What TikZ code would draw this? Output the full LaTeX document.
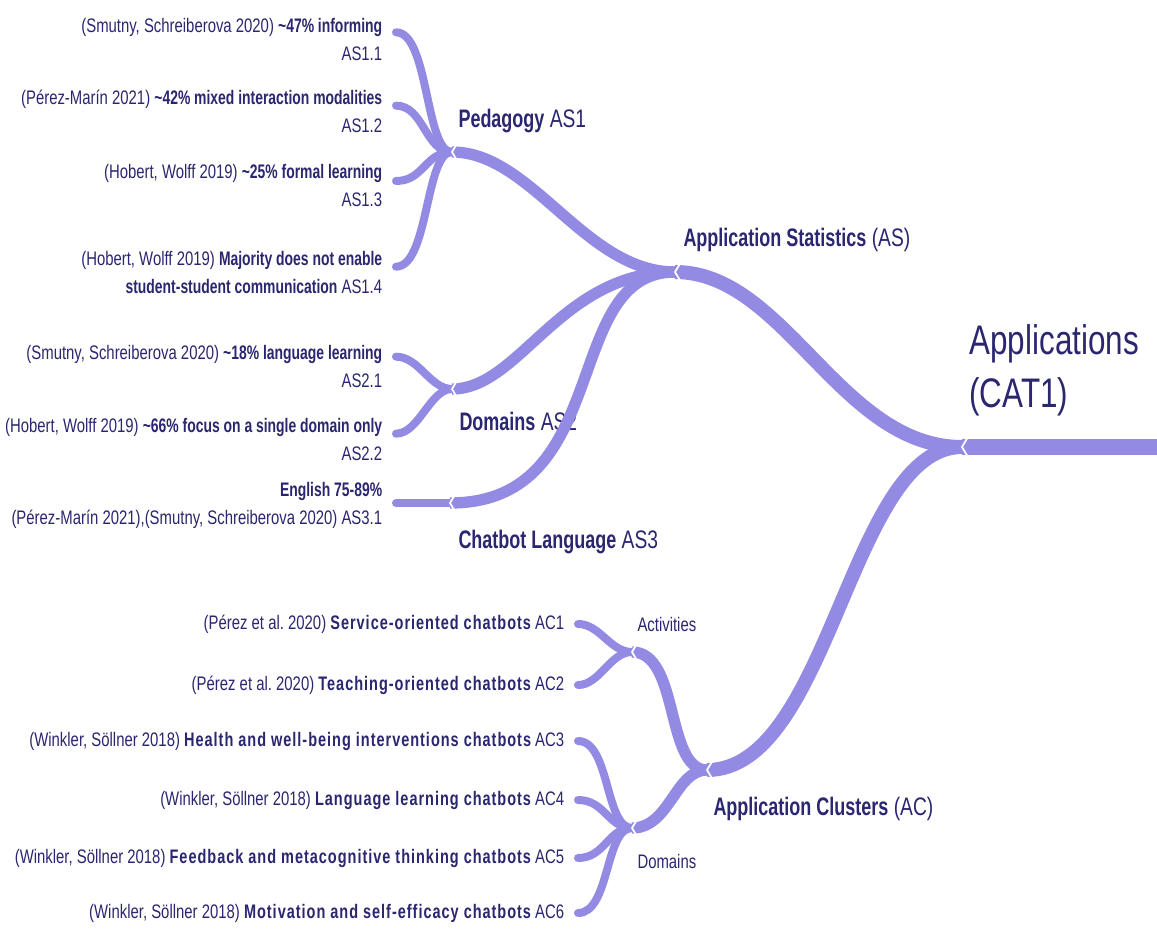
\documentclass[tikz,border=0pt]{standalone}
\usepackage{fontspec}
\setmainfont{Liberation Sans}[FakeStretch=0.76,BoldFeatures={FakeStretch=0.71}]
\newfontface\clusterbf{Liberation Sans Bold}[FakeStretch=0.74,LetterSpace=5]
\usetikzlibrary{calc}

\definecolor{twig}{RGB}{147,138,227}
\definecolor{ink}{RGB}{42,38,112}

\tikzset{every picture/.style={line width=0.75pt}}
\tikzset{
  stem/.style={draw=twig, line width=12pt},
  bough/.style={draw=twig, line width=10.5pt},
  limb/.style={draw=twig, line width=8.5pt},
  twigline/.style={draw=twig, line width=6pt, line cap=round},
  notch/.style={draw=white, line width=1.3pt},
  leaf/.style={anchor=east, align=right, inner xsep=10pt, inner ysep=0pt, text=ink, font=\fontsize{14.7}{21}\selectfont},
  branchlabel/.style={anchor=base west, inner sep=0pt, text=ink, font=\fontsize{19}{23}\selectfont},
  sublabel/.style={anchor=base west, inner sep=0pt, text=ink, font=\fontsize{14.7}{18}\selectfont},
  rootlabel/.style={anchor=west, align=left, inner sep=0pt, text=ink, font=\fontsize{31}{40}\selectfont},
}
% white chevron where a branch leaves its parent
\newcommand{\notchat}[1]{\draw[notch] ($(#1)+(6,-10)$) -- (#1) -- ($(#1)+(6,10)$);}

\begin{document}
\frenchspacing
\begin{tikzpicture}[x=0.75pt,y=0.75pt,yscale=-1,xscale=1]
	\path[use as bounding box] (0,0) rectangle (1157,930);

	% junctions
	\coordinate (rim) at (1157,447);
	\coordinate (cat) at (962,447);
	\coordinate (as) at (675,272);
	\coordinate (ac) at (707,770);
	\coordinate (ped) at (452,152);
	\coordinate (dom) at (452,389);
	\coordinate (lang) at (450,503);
	\coordinate (act) at (632,652);
	\coordinate (dmn) at (632,828);

	% Text Node
	\node[rootlabel] (catlbl) at (969,370) {Applications\\(CAT1)};
	% Text Node
	\node[branchlabel] (aslbl) at (683,247) {\textbf{Application Statistics} (AS)};
	% Text Node
	\node[branchlabel] (pedlbl) at (458,128) {\textbf{Pedagogy} AS1};
	% Text Node
	\node[branchlabel] (domlbl) at (459,431) {\textbf{Domains} AS2};
	% Text Node
	\node[branchlabel] (langlbl) at (458,548) {\textbf{Chatbot Language} AS3};
	% Text Node
	\node[branchlabel] (aclbl) at (713,815) {\textbf{Application Clusters} (AC)};
	% Text Node
	\node[sublabel] (actlbl) at (637,631) {Activities};
	% Text Node
	\node[sublabel] (dmnlbl) at (637,868) {Domains};

	% Text Node
	\node[leaf] (l11) at (396,39) {(Smutny, Schreiberova 2020) \textbf{\textasciitilde47\% informing}\\AS1.1};
	% Text Node
	\node[leaf] (l12) at (396,111) {(Pérez-Marín 2021) \textbf{\textasciitilde42\% mixed interaction modalities}\\AS1.2};
	% Text Node
	\node[leaf] (l13) at (396,185) {(Hobert, Wolff 2019) \textbf{\textasciitilde25\% formal learning}\\AS1.3};
	% Text Node
	\node[leaf] (l14) at (396,272) {(Hobert, Wolff 2019) \textbf{Majority does not enable}\\\textbf{student-student communication} AS1.4};
	% Text Node
	\node[leaf] (l21) at (396,366) {(Smutny, Schreiberova 2020) \textbf{\textasciitilde18\% language learning}\\AS2.1};
	% Text Node
	\node[leaf] (l22) at (396,439) {(Hobert, Wolff 2019) \textbf{\textasciitilde66\% focus on a single domain only}\\AS2.2};
	% Text Node
	\node[leaf] (l31) at (396,505) {\textbf{English 75-89\%}\\(Pérez-Marín 2021),(Smutny, Schreiberova 2020) AS3.1};

	% Text Node
	\node[leaf] (c1) at (578,624) {(Pérez et al. 2020) {\clusterbf Service-oriented chatbots} AC1};
	% Text Node
	\node[leaf] (c2) at (578,685) {(Pérez et al. 2020) {\clusterbf Teaching-oriented chatbots} AC2};
	% Text Node
	\node[leaf] (c3) at (578,741) {(Winkler, Söllner 2018) {\clusterbf Health and well-being interventions chatbots} AC3};
	% Text Node
	\node[leaf] (c4) at (578,800) {(Winkler, Söllner 2018) {\clusterbf Language learning chatbots} AC4};
	% Text Node
	\node[leaf] (c5) at (578,858) {(Winkler, Söllner 2018) {\clusterbf Feedback and metacognitive thinking chatbots} AC5};
	% Text Node
	\node[leaf] (c6) at (578,913) {(Winkler, Söllner 2018) {\clusterbf Motivation and self-efficacy chatbots} AC6};

	% leaf tips sit a little above the middle of two-line texts (y axis is flipped)
	\coordinate (t11) at ([yshift=-5pt]l11.east);
	\coordinate (t12) at ([yshift=-4pt]l12.east);
	\coordinate (t13) at ([yshift=-3pt]l13.east);
	\coordinate (t14) at ([yshift=-4pt]l14.east);
	\coordinate (t21) at ([yshift=-7pt]l21.east);
	\coordinate (t22) at ([yshift=-4pt]l22.east);

	%Straight Lines
	\draw[stem] (cat) -- (rim);
	%Curve Lines
	\draw[bough] (cat) .. controls ($(cat)+(-122,0)$) and ($(as)+(110,0)$) .. (as);
	\draw[bough] (cat) .. controls ($(cat)+(-112,0)$) and ($(ac)+(123,0)$) .. (ac);
	%Curve Lines
	\draw[limb] (as) .. controls ($(as)+(-90,0)$) and ($(ped)+(80,0)$) .. (ped);
	\draw[limb] (as) .. controls ($(as)+(-115,0)$) and ($(dom)+(68,0)$) .. (dom);
	\draw[limb] (as) .. controls ($(as)+(-115,0)$) and ($(lang)+(165,0)$) .. (lang);
	\draw[limb] (ac) .. controls ($(ac)+(-42,0)$) and ($(act)+(48,0)$) .. (act);
	\draw[limb] (ac) .. controls ($(ac)+(-32,0)$) and ($(dmn)+(38,0)$) .. (dmn);
	%Curve Lines
	\draw[twigline] (ped) .. controls ($(ped)+(-27,0)$) and ($(t11)+(33,0)$) .. (t11);
	\draw[twigline] (ped) .. controls ($(ped)+(-27,0)$) and ($(t12)+(28,0)$) .. (t12);
	\draw[twigline] (ped) .. controls ($(ped)+(-27,0)$) and ($(t13)+(28,0)$) .. (t13);
	\draw[twigline] (ped) .. controls ($(ped)+(-27,0)$) and ($(t14)+(33,0)$) .. (t14);
	\draw[twigline] (dom) .. controls ($(dom)+(-22,0)$) and ($(t21)+(23,0)$) .. (t21);
	\draw[twigline] (dom) .. controls ($(dom)+(-22,0)$) and ($(t22)+(23,0)$) .. (t22);
	\draw[twigline] (lang) -- (lang -| l31.east);
	\draw[twigline] (act) .. controls ($(act)+(-22,0)$) and ($(c1.east)+(22,0)$) .. (c1.east);
	\draw[twigline] (act) .. controls ($(act)+(-22,0)$) and ($(c2.east)+(22,0)$) .. (c2.east);
	\draw[twigline] (dmn) .. controls ($(dmn)+(-27,0)$) and ($(c3.east)+(32,0)$) .. (c3.east);
	\draw[twigline] (dmn) .. controls ($(dmn)+(-24,0)$) and ($(c4.east)+(27,0)$) .. (c4.east);
	\draw[twigline] (dmn) .. controls ($(dmn)+(-24,0)$) and ($(c5.east)+(27,0)$) .. (c5.east);
	\draw[twigline] (dmn) .. controls ($(dmn)+(-27,0)$) and ($(c6.east)+(32,0)$) .. (c6.east);

	%Shape: notches
	\notchat{cat}
	\notchat{as}
	\notchat{ac}
	\notchat{ped}
	\notchat{dom}
	\notchat{lang}
	\notchat{act}
	\notchat{dmn}

\end{tikzpicture}
\end{document}
